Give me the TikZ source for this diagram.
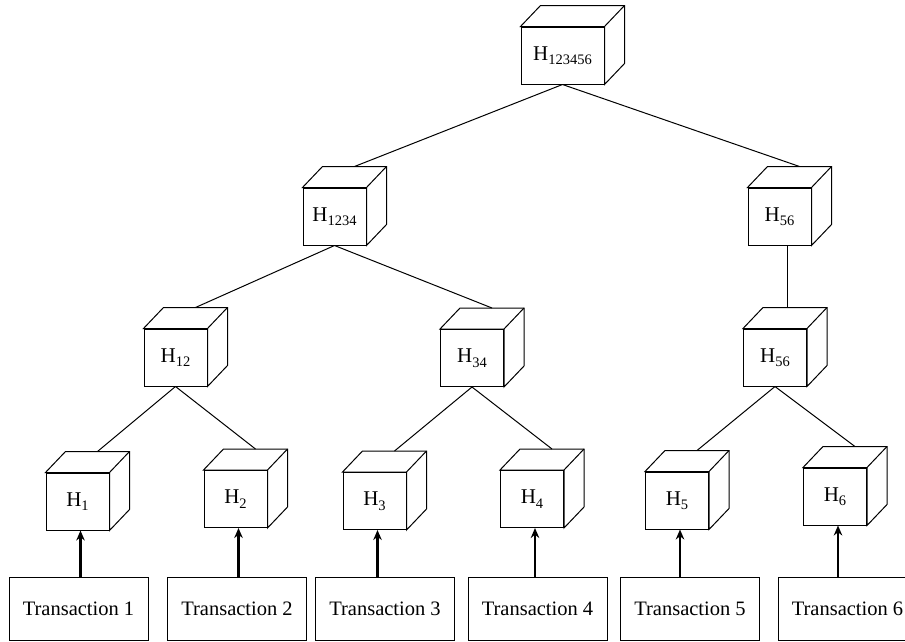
\documentclass[tikz,border=0pt]{standalone}
\usepackage{fontspec}
\setmainfont{Liberation Serif}
\usetikzlibrary{arrows.meta}

\newcommand{\hsub}[1]{H\raisebox{-4.5pt}{\fontsize{14.5}{15}\selectfont #1}}

\tikzset{
  hashbox/.style={draw, fill=white, line width=1pt, minimum width=63pt, minimum height=57pt,
    inner sep=0pt, font=\fontsize{21}{25}\selectfont,
    append after command={\pgfextra{%
      \edef\hb{\tikzlastnode}%
      \filldraw[fill=white, line width=1pt] (\hb.north west) -- ([shift={(20pt,21pt)}]\hb.north west)
        -- ([shift={(20pt,21pt)}]\hb.north east) -- ([shift={(20pt,21pt)}]\hb.south east)
        -- (\hb.south east) -- (\hb.north east) -- cycle;
      \draw[line width=1pt] (\hb.north east) -- ([shift={(20pt,21pt)}]\hb.north east);}}},
  txbox/.style={draw, line width=1pt, minimum width=139pt, minimum height=63pt,
    inner sep=0pt, font=\fontsize{20.5}{24}\selectfont},
  link/.style={line width=1pt},
  feed/.style={line width=2.2pt, -{Stealth[length=10pt,width=8.5pt]}},
}

\begin{document}
\begin{tikzpicture}[x=1pt, y=-1pt]
  \clip (0,0) rectangle (905,641);

  % Hash cubes
  \node[hashbox, minimum width=83pt] (h123456) at (562.5,55.5) {\hsub{123456}};
  \node[hashbox] (h1234) at (334.5,216.5) {\hsub{1234}};
  \node[hashbox] (h56a)  at (779.5,216.5) {\hsub{56}};
  \node[hashbox] (h12)   at (175.5,357.5) {\hsub{12}};
  \node[hashbox] (h34)   at (472,358)     {\hsub{34}};
  \node[hashbox] (h56b)  at (775,357.5)   {\hsub{56}};
  \node[hashbox] (h1) at (77.5,501.5) {\hsub{1}};
  \node[hashbox] (h2) at (235.5,499)  {\hsub{2}};
  \node[hashbox] (h3) at (374.5,501)  {\hsub{3}};
  \node[hashbox] (h4) at (532,499)    {\hsub{4}};
  \node[hashbox] (h5) at (677,500.5)  {\hsub{5}};
  \node[hashbox] (h6) at (835,496.5)  {\hsub{6}};

  % Transactions
  \node[txbox] (t1) at (78.5,608.5)  {Transaction 1};
  \node[txbox] (t2) at (237,608.5)   {Transaction 2};
  \node[txbox] (t3) at (385,608.5)   {Transaction 3};
  \node[txbox] (t4) at (537.5,608.5) {Transaction 4};
  \node[txbox] (t5) at (690,608.5)   {Transaction 5};
  \node[txbox] (t6) at (847.5,608.5) {Transaction 6};

  % Tree links (to the back edge of the child's top face)
  \draw[link] (h123456.south) -- ([shift={(20pt,21pt)}]h1234.north);
  \draw[link] (h123456.south) -- ([shift={(20pt,21pt)}]h56a.north);
  \draw[link] (h1234.south) -- ([shift={(20pt,21pt)}]h12.north);
  \draw[link] (h1234.south) -- ([shift={(20pt,21pt)}]h34.north);
  \draw[link] (h12.south) -- ([shift={(20pt,21pt)}]h1.north);
  \draw[link] (h12.south) -- ([shift={(20pt,21pt)}]h2.north);
  \draw[link] (h34.south) -- ([shift={(20pt,21pt)}]h3.north);
  \draw[link] (h34.south) -- ([shift={(20pt,21pt)}]h4.north);
  \draw[link] (h56b.south) -- ([shift={(20pt,21pt)}]h5.north);
  \draw[link] (h56b.south) -- ([shift={(20pt,21pt)}]h6.north);
  \coordinate (h56bot) at ([xshift=8pt]h56a.south);   % straight down
  \coordinate (h56top) at ([yshift=21pt]h56b.north);
  \draw[link] (h56bot) -- (h56bot |- h56top);

  % Transactions feed the leaves
  \draw[feed] ([xshift=3pt]h1.south |- t1.north) -- ([xshift=3pt]h1.south);
  \draw[feed] ([xshift=3pt]h2.south |- t2.north) -- ([xshift=3pt]h2.south);
  \draw[feed] ([xshift=3pt]h3.south |- t3.north) -- ([xshift=3pt]h3.south);
  \draw[feed] ([xshift=3pt]h4.south |- t4.north) -- ([xshift=3pt]h4.south);
  \draw[feed] ([xshift=3pt]h5.south |- t5.north) -- ([xshift=3pt]h5.south);
  \draw[feed] ([xshift=3pt]h6.south |- t6.north) -- ([xshift=3pt]h6.south);
\end{tikzpicture}
\end{document}
